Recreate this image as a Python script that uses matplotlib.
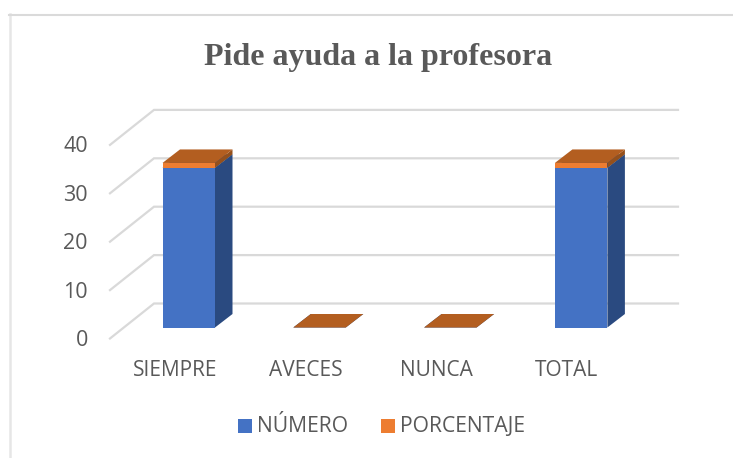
import matplotlib
matplotlib.use('Agg')
import matplotlib.pyplot as plt
from matplotlib.patches import Polygon, Rectangle

categories = ['SIEMPRE', 'AVECES', 'NUNCA', 'TOTAL']
numero = [33, 0, 0, 33]
porcentaje = [1, 0, 0, 1]
y_ticks = [0, 10, 20, 30, 40]

W, H = 733, 458
CAT_PX = 130.8     #pixels between categories
UNIT_PX = 4.84     #pixels per value unit
X0_PX = 162.5      #left edge of first bar, front
Y0_PX = 327.5      #bar base, front
BAR_W = 52.5 / CAT_PX
# oblique offsets, in data units
BAR_DX, BAR_DY = 17.5 / CAT_PX, 13.5 / UNIT_PX

BLUE, BLUE_SIDE = '#4472C4', '#2A4A80'
ORANGE, ORANGE_TOP, ORANGE_SIDE = '#ED7D31', '#B35E20', '#95501B'
GRID = '#D9D9D9'
TEXT = '#595959'

fig = plt.figure(figsize=(W / 100, H / 100), dpi=100)
ax = fig.add_axes([0, 0, 1, 1])
# data coordinates: x in categories, y in value units
ax.set_xlim(-X0_PX / CAT_PX, (W - X0_PX) / CAT_PX)
ax.set_ylim(-(H - Y0_PX) / UNIT_PX, Y0_PX / UNIT_PX)
ax.axis('off')

def px(x, y):
    return (x - X0_PX) / CAT_PX, (Y0_PX - y) / UNIT_PX

# chart border: left and top only, the right side is cut off
fig.add_artist(plt.Line2D([9.5 / W, 9.5 / W], [0, 1 - 14 / H], color='#E6E6E6', lw=1.8))
fig.add_artist(plt.Line2D([8.5 / W, 1], [1 - 14.5 / H, 1 - 14.5 / H], color='#DADADA', lw=1.5))

# gridlines: side wall then back wall
for v in y_ticks:
    fx, fy = px(110, 338.5 - v * UNIT_PX)
    bx, by = px(154, 303.5 - v * UNIT_PX)
    ex, ey = px(678, 303.5 - v * UNIT_PX)
    ax.plot([fx, bx, ex], [fy, by, ey], color=GRID, lw=1.6, solid_joinstyle='miter', zorder=1)

def box(x, bottom, top, front, top_col, side):
    d = ax.add_patch
    x1 = x + BAR_W
    if top > bottom:
        d(Polygon([(x1, bottom), (x1 + BAR_DX, bottom + BAR_DY), (x1 + BAR_DX, top + BAR_DY), (x1, top)],
                  color=side, lw=0, zorder=3))
        d(Rectangle((x, bottom), BAR_W, top - bottom, color=front, lw=0, zorder=3))
    d(Polygon([(x, top), (x + BAR_DX, top + BAR_DY), (x1 + BAR_DX, top + BAR_DY), (x1, top)],
              color=top_col, lw=0, zorder=3))

for i in range(len(categories)):
    box(i, 0, numero[i], BLUE, BLUE_SIDE, BLUE_SIDE)
    box(i, numero[i], numero[i] + porcentaje[i], ORANGE, ORANGE_TOP, ORANGE_SIDE)
    x, y = px(175.5 + i * 130.4, 370)
    ax.text(x, y, categories[i], ha='center', va='center', fontsize=15,
            family='Open Sans', color=TEXT)

for v in y_ticks:
    x, y = px(88, 340.5 - v * UNIT_PX)
    ax.text(x, y, str(v), ha='right', va='center', fontsize=15.5, family='Open Sans', color=TEXT)

x, y = px(378, 57)
ax.text(x, y, 'Pide ayuda a la profesora', ha='center', va='center', fontsize=23,
        family='Liberation Serif', weight='bold', color=TEXT)

# legend
for lx, col, name in [(238, BLUE, 'NÚMERO'), (380.5, ORANGE, 'PORCENTAJE')]:
    x, y = px(lx, 433)
    ax.add_patch(Rectangle((x, y), 14 / CAT_PX, 14 / UNIT_PX, color=col, lw=0))
    x, y = px(lx + 19, 426)
    ax.text(x, y, name, ha='left', va='center', fontsize=15.2, family='Open Sans', color=TEXT)

fig.savefig('out.png', dpi=100)
